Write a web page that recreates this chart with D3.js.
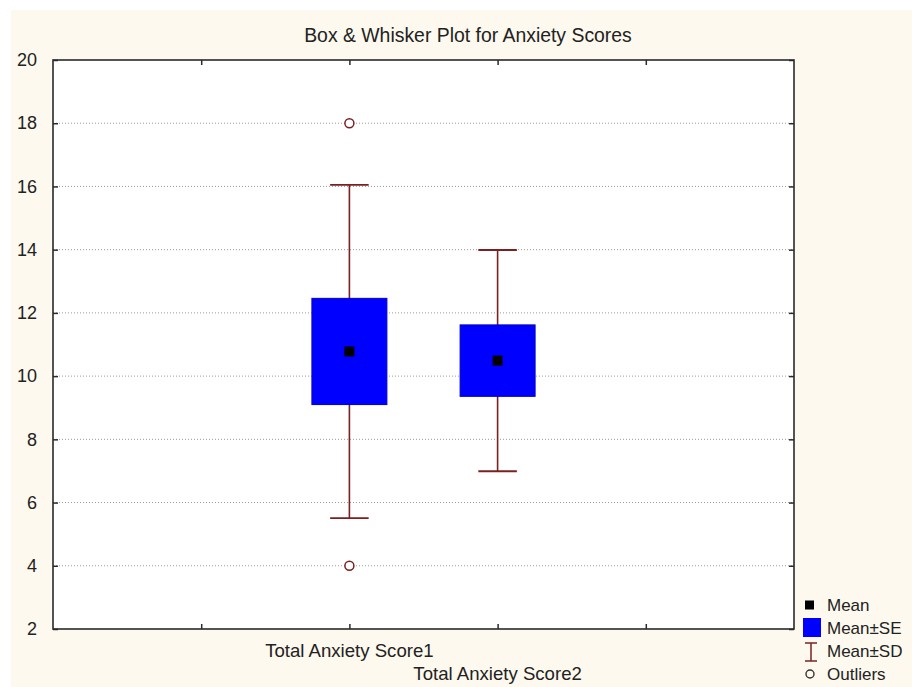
<!DOCTYPE html>
<html><head><meta charset="utf-8">
<script src="https://cdn.jsdelivr.net/npm/d3@7"></script>
<style>
html,body{margin:0;padding:0;background:#fff;}
svg{display:block;}
text{font-family:Arial,"Liberation Sans",sans-serif;fill:#222;}
</style></head>
<body>
<script>
const categories = ["Total Anxiety Score1", "Total Anxiety Score2"];
const categoryPositions = [2, 3];
const means = [10.78, 10.49];
const stdErrors = [1.68, 1.13];
const stdDevs = [5.27, 3.5];
const outliers = [[18, 4], []];
const yTicks = [2, 4, 6, 8, 10, 12, 14, 16, 18, 20];
const xTicks = [1, 2, 3, 4];
const legendLabels = ["Mean", "Mean±SE", "Mean±SD", "Outliers"];
const title = "Box & Whisker Plot for Anxiety Scores";

const W = 912, H = 687;
const m = {left: 53, right: 794, top: 60, bottom: 629};
const boxColor = "#0000ff", whiskColor = "#7a2020", frameColor = "#2a2a2a";

const svg = d3.select("body").append("svg").attr("width", W).attr("height", H);
svg.append("rect").attr("x", 0).attr("y", 0).attr("width", W).attr("height", H).attr("fill", "#ffffff");
svg.append("rect").attr("x", 11).attr("y", 10).attr("width", W - 11).attr("height", H - 10).attr("fill", "#fdf9ee");

const x = d3.scaleLinear().domain([0, 5]).range([m.left, m.right]);
const y = d3.scaleLinear().domain([2, 20]).range([m.bottom, m.top]);

// plot area
svg.append("rect").attr("x", m.left).attr("y", m.top).attr("width", m.right - m.left).attr("height", m.bottom - m.top).attr("fill", "#fff");

// grid
svg.append("g").selectAll("line").data(yTicks.filter(d => d > 2 && d < 20)).join("line")
  .attr("x1", m.left).attr("x2", m.right).attr("y1", d => y(d)).attr("y2", d => y(d))
  .attr("stroke", "#9a9a9a").attr("stroke-width", 1).attr("stroke-dasharray", "1,2");

// axes with inward ticks
const tickLen = 5;
svg.append("g").attr("transform", `translate(${m.left},0)`)
  .call(d3.axisLeft(y).tickValues(yTicks).tickSize(-tickLen).tickPadding(tickLen + 11).tickFormat(d3.format("d")))
  .call(g => { g.select(".domain").remove(); g.selectAll("line").attr("stroke", frameColor).attr("stroke-width", 1.5);
    g.selectAll("text").attr("font-size", 18).attr("fill", "#222").attr("font-family", "Arial, 'Liberation Sans', sans-serif"); });
svg.append("g").attr("transform", `translate(${m.right},0)`)
  .call(d3.axisRight(y).tickValues(yTicks).tickSize(-tickLen).tickFormat(""))
  .call(g => { g.select(".domain").remove(); g.selectAll("line").attr("stroke", frameColor).attr("stroke-width", 1.5); });
svg.append("g").attr("transform", `translate(0,${m.top})`)
  .call(d3.axisTop(x).tickValues(xTicks).tickSize(-tickLen).tickFormat(""))
  .call(g => { g.select(".domain").remove(); g.selectAll("line").attr("stroke", frameColor).attr("stroke-width", 1.5); });
svg.append("g").attr("transform", `translate(0,${m.bottom})`)
  .call(d3.axisBottom(x).tickValues(xTicks).tickSize(-tickLen).tickFormat(""))
  .call(g => { g.select(".domain").remove(); g.selectAll("line").attr("stroke", frameColor).attr("stroke-width", 1.5); });

// frame
svg.append("rect").attr("x", m.left).attr("y", m.top).attr("width", m.right - m.left).attr("height", m.bottom - m.top)
  .attr("fill", "none").attr("stroke", frameColor).attr("stroke-width", 1.6);

// category labels (staggered)
svg.append("g").selectAll("text").data(categories).join("text")
  .attr("x", (d, i) => x(categoryPositions[i])).attr("y", (d, i) => i % 2 === 0 ? 657 : 680)
  .attr("text-anchor", "middle").attr("font-size", 18.6).text(d => d);

// title
svg.append("text").attr("x", 468).attr("y", 42).attr("text-anchor", "middle").attr("font-size", 19.4).text(title);

const unit = x(1) - x(0);
const boxHalf = unit * 0.253, capHalf = unit * 0.13;
const data = categories.map((c, i) => ({c, p: categoryPositions[i], mean: means[i], se: stdErrors[i], sd: stdDevs[i], out: outliers[i]}));

const g = svg.append("g");
data.forEach(d => {
  const cx = x(d.p);
  // whiskers
  g.append("line").attr("x1", cx).attr("x2", cx).attr("y1", y(d.mean + d.sd)).attr("y2", y(d.mean - d.sd))
    .attr("stroke", whiskColor).attr("stroke-width", 1.6);
  [d.mean + d.sd, d.mean - d.sd].forEach(v => {
    g.append("line").attr("x1", cx - capHalf).attr("x2", cx + capHalf).attr("y1", y(v)).attr("y2", y(v))
      .attr("stroke", whiskColor).attr("stroke-width", 1.8);
  });
  // box
  g.append("rect").attr("x", cx - boxHalf).attr("width", 2 * boxHalf)
    .attr("y", y(d.mean + d.se)).attr("height", y(d.mean - d.se) - y(d.mean + d.se))
    .attr("fill", boxColor).attr("stroke", "#0000c8").attr("stroke-width", 1);
  // mean
  g.append("rect").attr("x", cx - 5).attr("y", y(d.mean) - 5).attr("width", 10).attr("height", 10).attr("fill", "#000");
  // outliers
  d.out.forEach(v => {
    g.append("circle").attr("cx", cx).attr("cy", y(v)).attr("r", 4.5)
      .attr("fill", "#fff").attr("stroke", whiskColor).attr("stroke-width", 1.5);
  });
});

// legend
const lg = svg.append("g");
const lx = 827, rows = [605, 628, 651, 674];
lg.append("rect").attr("x", 805).attr("y", rows[0] - 4.5).attr("width", 9).attr("height", 9).attr("fill", "#000");
lg.append("rect").attr("x", 803).attr("y", rows[1] - 10).attr("width", 18).attr("height", 19).attr("fill", boxColor);
lg.append("line").attr("x1", 811).attr("x2", 811).attr("y1", rows[2] - 8).attr("y2", rows[2] + 10).attr("stroke", whiskColor).attr("stroke-width", 1.5);
lg.append("line").attr("x1", 805).attr("x2", 817).attr("y1", rows[2] - 8).attr("y2", rows[2] - 8).attr("stroke", whiskColor).attr("stroke-width", 1.5);
lg.append("line").attr("x1", 805).attr("x2", 817).attr("y1", rows[2] + 10).attr("y2", rows[2] + 10).attr("stroke", whiskColor).attr("stroke-width", 1.5);
lg.append("circle").attr("cx", 810).attr("cy", rows[3]).attr("r", 4).attr("fill", "none").attr("stroke", "#333").attr("stroke-width", 1.4);
lg.selectAll("text").data(legendLabels).join("text")
  .attr("x", lx).attr("y", (d, i) => rows[i] + 6).attr("font-size", 17).text(d => d);
</script>
</body></html>
